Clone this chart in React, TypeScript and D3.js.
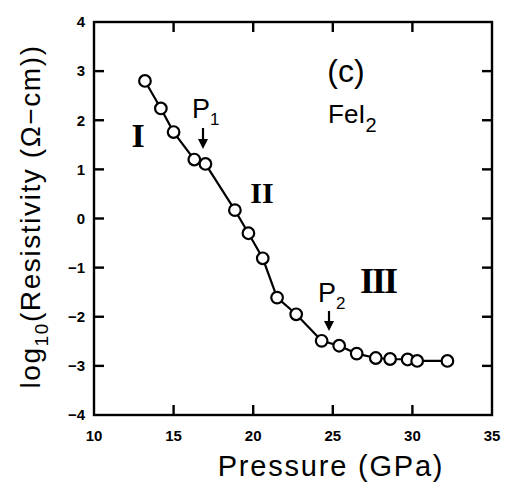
import React from "react";
import * as d3 from "d3";

const pressure = [13.2, 14.2, 15.0, 16.3, 17.0, 18.85, 19.7, 20.6, 21.5, 22.7, 24.3, 25.4, 26.5, 27.7, 28.6, 29.7, 30.3, 32.2];
const logRes = [2.8, 2.24, 1.76, 1.2, 1.11, 0.17, -0.3, -0.81, -1.61, -1.95, -2.49, -2.59, -2.75, -2.84, -2.86, -2.87, -2.9, -2.9];
const xTicks = [10, 15, 20, 25, 30, 35];
const yTicks = [-4, -3, -2, -1, 0, 1, 2, 3, 4];

export default function App() {
  const W = 510, H = 493;
  const left = 94, right = 492, top = 22, bottom = 415;
  const x = d3.scaleLinear().domain([10, 35]).range([left, right]);
  const y = d3.scaleLinear().domain([-4, 4]).range([bottom, top]);
  const pts = pressure.map((p, i) => [x(p), y(logRes[i])] as [number, number]);
  const line = d3.line()(pts) || "";
  const font = "'Liberation Sans', Arial, sans-serif";
  const serif = "'Liberation Serif', 'Times New Roman', serif";
  const tl = 10;
  const tw = 2.4;
  const fmt = (v: number) => (v < 0 ? "\u2212" + Math.abs(v) : String(v));
  return (
    <svg width={W} height={H} style={{ position: "absolute", left: 0, top: 0, background: "#fff" }}>
      <rect x={left} y={top} width={right - left} height={bottom - top} fill="none" stroke="#000" strokeWidth={2.4} />
      {yTicks.slice(1, -1).map((t) => (
        <g key={"yt" + t}>
          <rect x={left} y={y(t) - tw / 2} width={tl} height={tw} fill="#000" />
          <rect x={right - tl} y={y(t) - tw / 2} width={tl} height={tw} fill="#000" />
        </g>
      ))}
      {xTicks.slice(1, -1).map((t) => (
        <g key={"xt" + t}>
          <rect x={x(t) - tw / 2} y={bottom - tl} width={tw} height={tl} fill="#000" />
          <rect x={x(t) - tw / 2} y={top} width={tw} height={tl} fill="#000" />
        </g>
      ))}
      {yTicks.map((t) => (
        <text key={"yl" + t} x={85} y={y(t)} dy="0.35em" textAnchor="end" fontFamily={font} fontWeight="bold" fontSize={15}>
          {fmt(t)}
        </text>
      ))}
      {xTicks.map((t) => (
        <text key={"xl" + t} x={x(t)} y={441} textAnchor="middle" fontFamily={font} fontWeight="bold" fontSize={15}>
          {t}
        </text>
      ))}
      <text x={331} y={476} textAnchor="middle" fontFamily={font} fontSize={29} letterSpacing={1.8}>
        Pressure (GPa)
      </text>
      <text transform={`translate(40,${(top + bottom) / 2 - 2}) rotate(-90)`} textAnchor="middle" fontFamily={font} fontSize={28} letterSpacing={1.6}>
        log<tspan fontSize={19} dy={8}>10</tspan><tspan dy={-8}>(Resistivity (Ω−cm))</tspan>
      </text>
      <path d={line} fill="none" stroke="#000" strokeWidth={2.2} />
      {pts.map((p, i) => (
        <circle key={i} cx={p[0]} cy={p[1]} r={5.8} fill="#fff" stroke="#000" strokeWidth={2.2} />
      ))}
      <text x={346} y={82} textAnchor="middle" fontFamily={font} fontSize={32}>(c)</text>
      <text x={328} y={123} fontFamily={font} fontSize={26}>
        FeI<tspan fontSize={20} dy={9}>2</tspan>
      </text>
      <text x={138} y={147} textAnchor="middle" fontFamily={serif} fontWeight="bold" fontSize={34}>I</text>
      <text x={262} y={203} textAnchor="middle" fontFamily={serif} fontWeight="bold" fontSize={30}>II</text>
      <text x={378} y={293} textAnchor="middle" fontFamily={serif} fontWeight="bold" fontSize={36} letterSpacing={-2}>III</text>
      <text x={192} y={118} fontFamily={font} fontSize={27}>
        P<tspan fontSize={17} dy={7}>1</tspan>
      </text>
      <line x1={203} x2={203} y1={128} y2={144} stroke="#000" strokeWidth={2.2} />
      <path d="M198,139 L203,149 L208,139 Z" fill="#000" />
      <text x={318} y={302} fontFamily={font} fontSize={27}>
        P<tspan fontSize={17} dy={7}>2</tspan>
      </text>
      <line x1={329} x2={329} y1={311} y2={326} stroke="#000" strokeWidth={2.2} />
      <path d="M324,321 L329,331 L334,321 Z" fill="#000" />
    </svg>
  );
}
